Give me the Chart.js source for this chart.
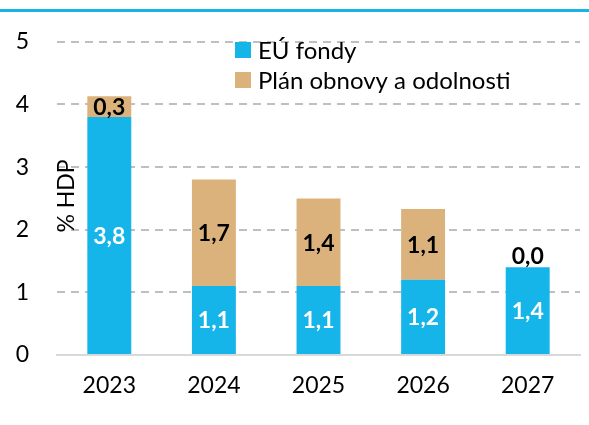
<!DOCTYPE html>
<html>
<head>
<meta charset="utf-8">
<script src="https://cdn.jsdelivr.net/npm/chart.js@4"></script>
<style>
  html, body { margin: 0; padding: 0; background: #fff; }
  #wrap { width: 589px; height: 425px; position: relative; }
</style>
</head>
<body>
<div id="wrap"><canvas id="chart" width="589" height="425"></canvas></div>
<script>
// values (% HDP)
const years = ['2023', '2024', '2025', '2026', '2027'];
const euFunds = [3.8, 1.1, 1.1, 1.2, 1.4];
const recovery = [0.33, 1.7, 1.4, 1.13, 0.0];
const yTicks = [0, 1, 2, 3, 4, 5];

const BLUE = '#15b4e9';
const TAN = '#dbb27b';
const FONT = 'Lato, "Open Sans", sans-serif';

// blue rule at the very top + y title + legend + value labels
const extras = {
  id: 'extras',
  afterDraw(chart) {
    const ctx = chart.ctx;
    ctx.save();
    // top rule of the page header
    ctx.fillStyle = BLUE;
    ctx.fillRect(0, 9, 589, 3);

    // axis title, sits inside the plot
    ctx.save();
    ctx.translate(67, 196);
    ctx.rotate(-Math.PI / 2);
    ctx.fillStyle = '#000';
    ctx.font = '23px ' + FONT;
    ctx.textAlign = 'center';
    ctx.textBaseline = 'middle';
    ctx.fillText('% HDP', 0, 0);
    ctx.restore();

    // legend
    ctx.font = '24px ' + FONT;
    ctx.textAlign = 'left';
    ctx.textBaseline = 'middle';
    chart.data.datasets.forEach((ds, i) => {
      const y = 50 + i * 30;
      ctx.fillStyle = ds.backgroundColor;
      ctx.fillRect(235, y - 8, 16, 16);
      ctx.fillStyle = '#000';
      ctx.fillText(ds.label, 258, y + 1);
    });

    // value labels
    ctx.font = 'bold 23px ' + FONT;
    ctx.textAlign = 'center';
    chart.data.datasets.forEach((ds, di) => {
      const meta = chart.getDatasetMeta(di);
      meta.data.forEach((bar, i) => {
        const v = ds.data[i];
        const txt = v.toFixed(1).replace('.', ',');
        let y = (bar.y + bar.base) / 2;
        if (v === 0) y = bar.y - 12;
        ctx.fillStyle = di === 0 ? '#fff' : '#000';
        ctx.fillText(txt, bar.x, y + 1);
      });
    });
    ctx.restore();
  }
};

new Chart(document.getElementById('chart'), {
  type: 'bar',
  data: {
    labels: years,
    datasets: [
      { label: 'EÚ fondy', data: euFunds, backgroundColor: BLUE },
      { label: 'Plán obnovy a odolnosti', data: recovery, backgroundColor: TAN }
    ]
  },
  options: {
    responsive: false,
    animation: false,
    layout: { padding: { top: 33, right: 9, left: 0, bottom: 0 } },
    datasets: { bar: { categoryPercentage: 1, barPercentage: 0.42 } },
    plugins: { legend: { display: false }, tooltip: { enabled: false } },
    scales: {
      x: {
        stacked: true,
        afterFit: s => { s.height = 70; },
        grid: { display: false, drawTicks: false },
        border: { display: true, color: '#d9d9d9', width: 2 },
        ticks: { color: '#000', padding: 17, font: { family: FONT, size: 23 } }
      },
      y: {
        stacked: true,
        min: 0,
        max: 5,
        afterFit: s => { s.width = 57; },
        afterBuildTicks: s => { s.ticks = yTicks.map(v => ({ value: v })); },
        grid: {
          color: c => c.tick.value === 0 ? 'rgba(0,0,0,0)' : '#bfbfbf',
          lineWidth: 2,
          drawTicks: false
        },
        border: { display: false, dash: [8, 6] },
        ticks: { color: '#000', padding: 28, font: { family: FONT, size: 23 } }
      }
    }
  },
  plugins: [extras]
});
</script>
</body>
</html>
